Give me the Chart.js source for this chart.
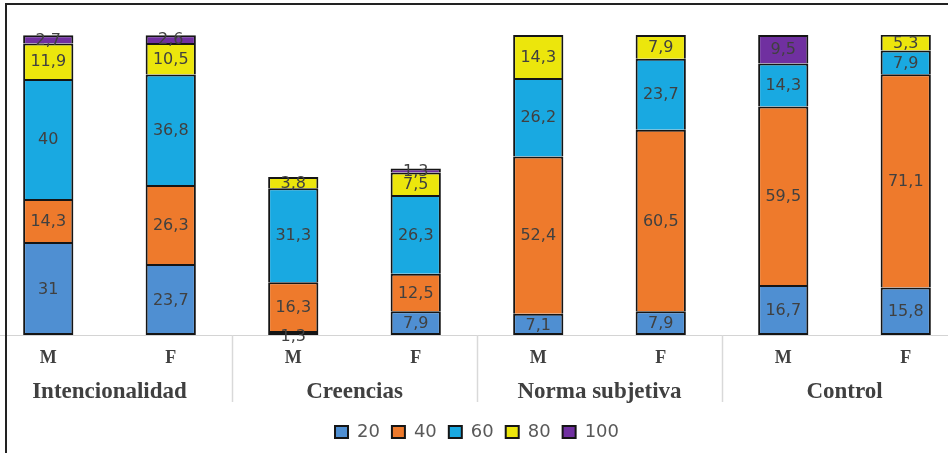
<!DOCTYPE html>
<html>
<head>
<meta charset="utf-8">
<script src="https://cdn.jsdelivr.net/npm/chart.js@4/dist/chart.umd.min.js"></script>
<style>
  html, body { margin: 0; padding: 0; background: #ffffff; overflow: hidden; width: 948px; height: 453px; }
  #wrap { position: relative; width: 948px; height: 453px; overflow: hidden; }
  #c { position: absolute; left: -13px; top: 0; }
  #frame { position: absolute; left: 5px; top: 3px; width: 960px; height: 470px;
           border-left: 2px solid #222; border-top: 2px solid #222; pointer-events: none; }
</style>
</head>
<body>
<div id="wrap">
  <canvas id="c" width="980" height="453"></canvas>
  <div id="frame"></div>
</div>
<script>
// Slot labels (sex) and group labels
const categories = ['M', 'F', 'M', 'F', 'M', 'F', 'M', 'F'];
const groups = ['Intencionalidad', 'Creencias', 'Norma subjetiva', 'Control'];
const seriesNames = ['20', '40', '60', '80', '100'];

// Series values (percent), one per slot
const s20  = [31,   23.7, 1.3,  7.9,  7.1,  7.9,  16.7, 15.8];
const s40  = [14.3, 26.3, 16.3, 12.5, 52.4, 60.5, 59.5, 71.1];
const s60  = [40,   36.8, 31.3, 26.3, 26.2, 23.7, 14.3, 7.9];
const s80  = [11.9, 10.5, 3.8,  7.5,  14.3, 7.9,  null, 5.3];
const s100 = [2.7,  2.6,  null, 1.3,  null, null, 9.5,  null];

const colors = ['#4f8fd2', '#ee7a2c', '#19a9e1', '#ece60c', '#7030a0'];
const seriesData = [s20, s40, s60, s80, s100];

const fmt = v => String(v).replace('.', ',');

const valueLabels = {
  id: 'valueLabels',
  afterDatasetsDraw(chart) {
    const ctx = chart.ctx;
    ctx.save();
    ctx.font = '16px "DejaVu Sans"';
    ctx.fillStyle = '#404040';
    ctx.textAlign = 'center';
    ctx.textBaseline = 'middle';
    chart.data.datasets.forEach((ds, i) => {
      const meta = chart.getDatasetMeta(i);
      meta.data.forEach((el, j) => {
        const v = ds.data[j];
        if (v == null) return;
        const p = el.getProps(['x', 'y', 'base'], true);
        let y = (p.y + p.base) / 2 + 1;
        if (Math.abs(p.base - p.y) < 6 && i === 0) y = p.base + 2;
        ctx.fillText(fmt(v), p.x, y);
      });
    });
    ctx.restore();
  }
};

const separators = {
  id: 'separators',
  afterDraw(chart) {
    const sx = chart.scales.x;
    const ctx = chart.ctx;
    const b = chart.chartArea.bottom;
    ctx.save();
    ctx.strokeStyle = '#d9d9d9';
    ctx.lineWidth = 1.5;
    for (let k = 2; k < categories.length; k += 2) {
      const x = Math.round((sx.getPixelForValue(k - 1) + sx.getPixelForValue(k)) / 2) + 0.5;
      ctx.beginPath();
      ctx.moveTo(x, b);
      ctx.lineTo(x, b + 67);
      ctx.stroke();
    }
    ctx.restore();
  }
};

new Chart(document.getElementById('c'), {
  type: 'bar',
  data: {
    labels: categories,
    datasets: seriesData.map((d, i) => ({
      label: seriesNames[i],
      data: d,
      backgroundColor: colors[i],
      borderColor: '#151515',
      borderWidth: 2,
      borderSkipped: i === 0 ? false : 'start',
      categoryPercentage: 1,
      barPercentage: 0.41
    }))
  },
  options: {
    responsive: false,
    animation: false,
    devicePixelRatio: 1,
    layout: { padding: { top: 35, bottom: 2, left: 0, right: 0 } },
    scales: {
      y: { stacked: true, min: 0, max: 100, display: false },
      x: {
        stacked: true,
        offset: true,
        grid: { display: false, drawTicks: false },
        border: { display: true, color: '#d4d4d4', width: 1 },
        ticks: {
          color: '#404040',
          padding: 13,
          font: { family: '"Liberation Serif"', size: 18, weight: 'bold' }
        },
        afterFit(s) { s.height = 36; }
      },
      x2: {
        type: 'category',
        labels: groups,
        position: 'bottom',
        offset: true,
        grid: { display: false, drawTicks: false },
        border: { display: false },
        ticks: {
          color: '#404040',
          padding: 7,
          font: { family: '"Liberation Serif"', size: 23, weight: 'bold' }
        },
        afterFit(s) { s.height = 40; }
      }
    },
    plugins: {
      legend: {
        position: 'bottom',
        labels: {
          boxWidth: 13,
          boxHeight: 12,
          padding: 12,
          color: '#595959',
          font: { family: '"DejaVu Sans"', size: 18 }
        }
      },
      tooltip: { enabled: false }
    }
  },
  plugins: [valueLabels, separators]
});
</script>
</body>
</html>
